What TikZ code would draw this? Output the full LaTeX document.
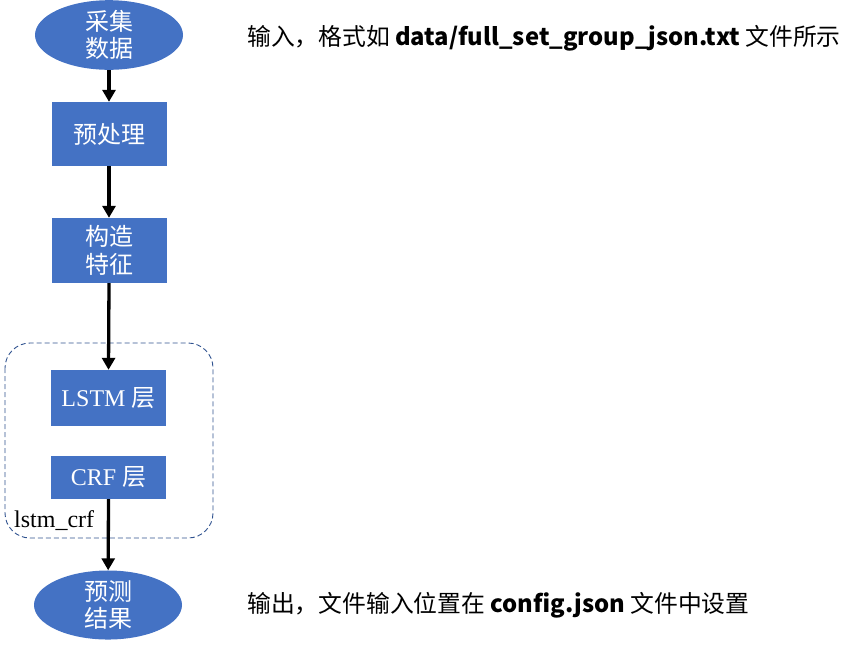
\documentclass[tikz,border=0pt]{standalone}
\usepackage{fontspec}
\setmainfont{Liberation Serif}
\newfontfamily\cjk{Noto Sans CJK SC}
\usetikzlibrary{arrows.meta,shapes.geometric}
\definecolor{boxblue}{HTML}{4472C4}
\definecolor{edgeblue}{HTML}{2F528F}

\begin{document}
\begin{tikzpicture}[x=1pt,y=-1pt]
\tikzset{every node/.style={inner sep=0pt},
  term/.style={ellipse,fill=boxblue,minimum width=148pt,minimum height=66pt,
    text=white,align=center,font=\cjk\fontsize{24}{27}\selectfont},
  proc/.style={rectangle,fill=boxblue,minimum width=115pt,text=white,align=center,
    font=\cjk\fontsize{24}{28}\selectfont},
  flow/.style={line width=3.3pt,-{Triangle[width=13pt,length=12pt]}},
  note/.style={anchor=west,font=\cjk\fontsize{23.8}{26}\selectfont}}
\useasboundingbox (0,0) rectangle (856,649);
% group frame
\draw [edgeblue,line width=0.9pt,dash pattern=on 5pt off 3pt,rounded corners=25pt] (5,343) rectangle (213,538);
\node [anchor=south west,font=\fontsize{24}{26}\selectfont] (lab) at (14,531) {lstm\_crf};
% steps
\node [term] (collect) at (109,35) {采集\\数据};
\node [proc,minimum height=64pt] (prep) at (109,134) {预处理};
\node [proc,minimum height=65pt] (feat) at (109,250.5) {构造\\特征};
\node [proc,minimum height=56pt] (lstm) at (108.5,398) {\rmfamily LSTM {\cjk 层}};
\node [proc,minimum height=43pt] (crf) at (108.5,477.5) {\rmfamily CRF {\cjk 层}};
\node [term] (result) at (108,605) {预测\\结果};
% arrows
\draw [flow] (collect) -- (prep);
\draw [flow] (prep) -- (feat);
\draw [flow] (feat.south) -- (lstm.north);
\draw [flow] (crf.south) -- (result);
% notes
\node [note] (input) at (247,38) {输入，格式如 {\bfseries data/full\_set\_group\_json.txt} 文件所示};
\node [note] (output) at (247,605) {输出，文件输入位置在 {\bfseries config.json} 文件中设置};
\end{tikzpicture}
\end{document}
